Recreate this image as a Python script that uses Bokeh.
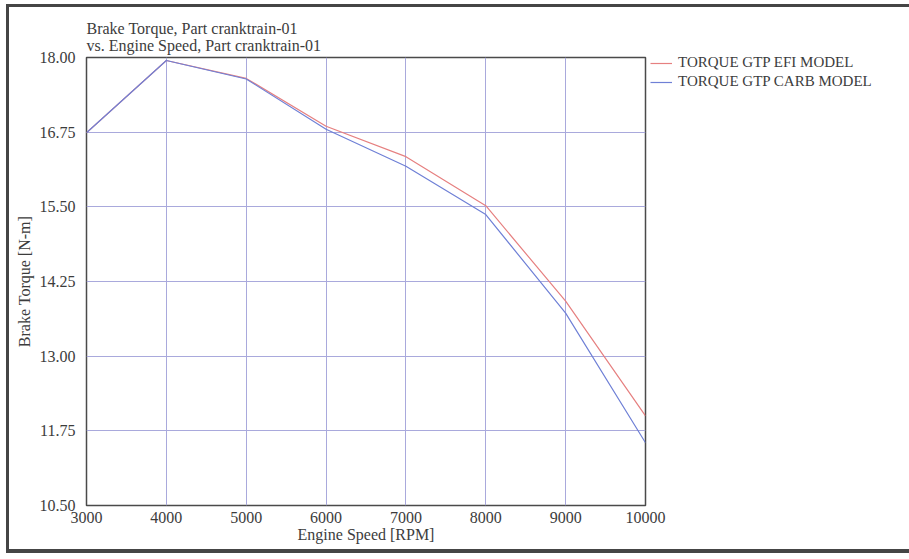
from bokeh.plotting import figure
from bokeh.models import Legend, LegendItem, FixedTicker, NumeralTickFormatter, Range1d
from bokeh.embed import file_html
from bokeh.resources import INLINE

rpm = [3000, 4000, 5000, 6000, 7000, 8000, 9000, 10000]
torque_efi = [16.74, 17.95, 17.65, 16.85, 16.34, 15.52, 13.92, 12.00]
torque_carb = [16.74, 17.95, 17.64, 16.80, 16.18, 15.37, 13.72, 11.55]
x_ticks = [3000, 4000, 5000, 6000, 7000, 8000, 9000, 10000]
y_ticks = [10.50, 11.75, 13.00, 14.25, 15.50, 16.75, 18.00]

FONT = "Liberation Serif"
TXT = "#3c3c3c"

p = figure(frame_width=559, frame_height=448, output_backend="svg", toolbar_location=None,
           x_range=Range1d(3000, 10000), y_range=Range1d(10.5, 18.0),
           min_border_left=86, min_border_right=258, min_border_top=57, min_border_bottom=48,
           title="Brake Torque, Part cranktrain-01\nvs. Engine Speed, Part cranktrain-01")

# outer frame of the picture (left, top and bottom edges only)
p.styles = {"box-shadow": ("inset 6px 4px 0 0 #ffffff, inset 9px 7px 0 0 #454545, "
                           "inset 0 -4px 0 0 #454545")}

p.title.text_font = FONT
p.title.text_font_size = "16px"
p.title.text_font_style = "normal"
p.title.text_color = TXT
p.title.align = "left"
p.title.standoff = 7
p.title.text_line_height = 1.0

p.outline_line_color = "#4a4a4a"
p.outline_line_width = 1.5
p.outline_line_alpha = 1.0
p.background_fill_color = "white"
p.border_fill_alpha = 0

for ax in (p.xaxis[0], p.yaxis[0]):
    ax.axis_line_color = None
    ax.major_tick_line_color = None
    ax.minor_tick_line_color = None
    ax.major_label_text_font = FONT
    ax.major_label_text_font_size = "16px"
    ax.major_label_text_color = TXT
    ax.axis_label_text_font = FONT
    ax.axis_label_text_font_size = "16px"
    ax.axis_label_text_font_style = "normal"
    ax.axis_label_text_color = TXT

p.xaxis.ticker = FixedTicker(ticks=x_ticks)
p.yaxis.ticker = FixedTicker(ticks=y_ticks)
p.yaxis.formatter = NumeralTickFormatter(format="0.00")
p.xaxis.axis_label = "Engine Speed [RPM]"
p.yaxis.axis_label = "Brake Torque [N-m]"
p.xaxis.major_label_standoff = 0
p.yaxis.major_label_standoff = 5
p.xaxis.axis_label_standoff = 0
p.yaxis.axis_label_standoff = 4

p.xgrid.ticker = FixedTicker(ticks=x_ticks)
p.ygrid.ticker = FixedTicker(ticks=y_ticks)
p.grid.grid_line_color = "#a9a9dc"
p.grid.grid_line_width = 1
p.grid.grid_line_alpha = 1.0

r_efi = p.line(rpm, torque_efi, line_color="#e68080", line_width=1.2)
r_carb = p.line(rpm, torque_carb, line_color="#6f80d6", line_width=1.2)

legend = Legend(items=[LegendItem(label="TORQUE GTP EFI MODEL", renderers=[r_efi]),
                       LegendItem(label="TORQUE GTP CARB MODEL", renderers=[r_carb])],
                location=(5, 415))
legend.label_text_font = FONT
legend.label_text_font_size = "15px"
legend.label_text_color = TXT
legend.background_fill_alpha = 0
legend.border_line_color = None
legend.margin = 0
legend.padding = 0
legend.spacing = 2
legend.glyph_width = 22
legend.glyph_height = 14
legend.label_height = 14
legend.label_standoff = 6
p.add_layout(legend, "right")

open("out.html", "w").write(file_html(p, INLINE))
